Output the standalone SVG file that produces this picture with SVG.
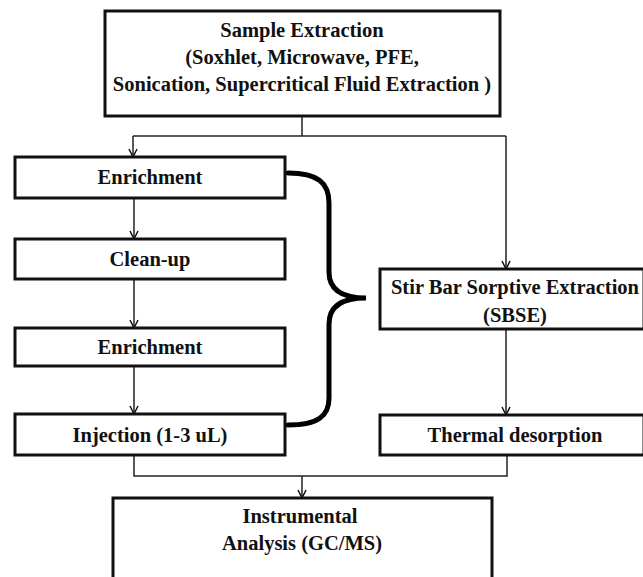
<svg xmlns="http://www.w3.org/2000/svg" width="643" height="577" viewBox="0 0 643 577">
<defs>
<marker id="ah" viewBox="0 0 10 10" refX="9" refY="5" markerWidth="10" markerHeight="10" markerUnits="userSpaceOnUse" orient="auto">
<path d="M1,1 L9,5 L1,9" fill="none" stroke="#111" stroke-width="1.5"/>
</marker>
</defs>
<style>
.box{fill:#fff;stroke:#111;stroke-width:3}
.t{font-family:"Liberation Serif","Times New Roman",serif;font-weight:bold;font-size:20.5px;fill:#111;text-anchor:middle}
.c{fill:none;stroke:#222;stroke-width:1.5}
.brace{fill:none;stroke:#000;stroke-width:5;stroke-linecap:round}
</style>
<rect width="643" height="577" fill="#fff"/>
<g id="connectors">
<path class="c" d="M302,116 V136 M133,136 H506"/>
<path class="c" d="M133,136 V157" marker-end="url(#ah)"/>
<path class="c" d="M506,136 V269" marker-end="url(#ah)"/>
<path class="c" d="M134,198 V239" marker-end="url(#ah)"/>
<path class="c" d="M134,279 V328" marker-end="url(#ah)"/>
<path class="c" d="M134,366 V414" marker-end="url(#ah)"/>
<path class="c" d="M506,329 V415" marker-end="url(#ah)"/>
<path class="c" d="M134,455 V476 H507 V455"/>
<path class="c" d="M302,476 V498" marker-end="url(#ah)"/>
<path class="brace" d="M288,173 C318,173 329,183 329,203 L329,272 C329,290 342,298 366,298 C342,298 329,306 329,324 L329,398 C329,416 318,425 288,425"/>
</g>
<g id="sample-extraction">
<rect class="box" x="105" y="11" width="395" height="105"/>
<text class="t" x="302" y="37">Sample Extraction</text>
<text class="t" x="302" y="64">(Soxhlet, Microwave, PFE,</text>
<text class="t" x="302" y="91">Sonication, Supercritical Fluid Extraction )</text>
</g>
<g id="enrichment-1">
<rect class="box" x="15" y="157" width="270" height="41"/>
<text class="t" x="150" y="184">Enrichment</text>
</g>
<g id="clean-up">
<rect class="box" x="15" y="239" width="270" height="40"/>
<text class="t" x="150" y="266">Clean-up</text>
</g>
<g id="enrichment-2">
<rect class="box" x="15" y="328" width="270" height="38"/>
<text class="t" x="150" y="354">Enrichment</text>
</g>
<g id="injection">
<rect class="box" x="15" y="414" width="270" height="41"/>
<text class="t" x="150" y="442">Injection (1-3 uL)</text>
</g>
<g id="sbse">
<rect class="box" x="380" y="269" width="264" height="60"/>
<text class="t" x="515" y="294">Stir Bar Sorptive Extraction</text>
<text class="t" x="515" y="322">(SBSE)</text>
</g>
<g id="thermal-desorption">
<rect class="box" x="380" y="415" width="264" height="40"/>
<text class="t" x="515" y="442">Thermal desorption</text>
</g>
<g id="instrumental-analysis">
<rect class="box" x="113" y="498" width="379" height="90"/>
<text class="t" x="300" y="523">Instrumental</text>
<text class="t" x="302" y="550">Analysis (GC/MS)</text>
</g>
</svg>
